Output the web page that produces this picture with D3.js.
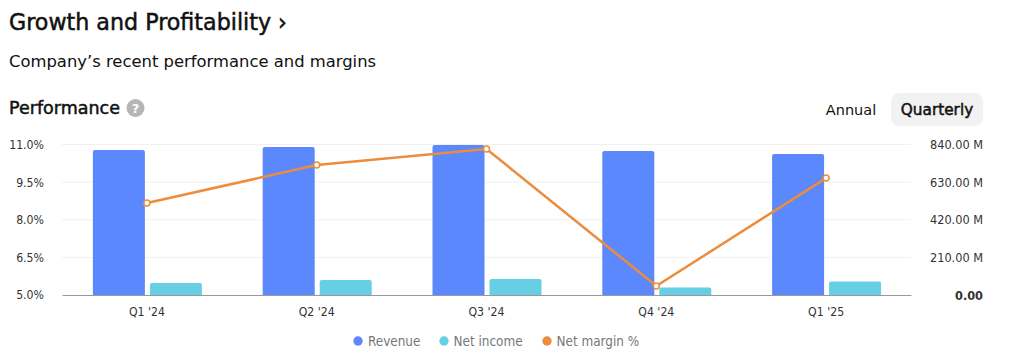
<!DOCTYPE html>
<html>
<head>
<meta charset="utf-8">
<script src="https://cdn.jsdelivr.net/npm/d3@7"></script>
<style>
  html, body { margin: 0; padding: 0; background: #fff; overflow: hidden; }
  text { font-family: "DejaVu Sans", sans-serif; }
  .small text, text.small { font-family: "DejaVu Sans Condensed", "DejaVu Sans", sans-serif; font-stretch: condensed; }
</style>
</head>
<body>
<svg id="chart" width="1024" height="361"></svg>
<script>
const quarters = ["Q1 '24", "Q2 '24", "Q3 '24", "Q4 '24", "Q1 '25"];
const revenue = [809, 826, 837, 804, 787];
const netIncome = [67, 84, 89, 42, 75];
const netMargin = [8.67, 10.18, 10.82, 5.36, 9.66];
const marginTicks = [5, 6.5, 8, 9.5, 11];
const moneyTicks = [0, 210, 420, 630, 840];
const legendItems = ["Revenue", "Net income", "Net margin %"];

const blue = "#5b88fd", teal = "#66cfe3", orange = "#ec8c3c";

const svg = d3.select("#chart");
const margin = {top: 144.5, bottom: 295, left: 62, right: 911};

const x = d3.scaleBand().domain(quarters).range([margin.left, margin.right]);
const yMoney = d3.scaleLinear().domain([0, 840]).range([margin.bottom, margin.top]);
const yMargin = d3.scaleLinear().domain([5, 11]).range([margin.bottom, margin.top]);

// headings, thin stroke stands in for the semi-bold weight
const heading = (xPos, yPos, label, size, anchor) => svg.append("text")
  .attr("x", xPos).attr("y", yPos).attr("text-anchor", anchor || "start").text(label)
  .style("font-size", size + "px").style("fill", "#111")
  .style("stroke", "#111").style("stroke-width", 0.5);

heading(9, 30, "Growth and Profitability ›", 22.2);
svg.append("text").attr("x", 9).attr("y", 67).text("Company’s recent performance and margins")
  .style("font-size", "16.4px").style("fill", "#111");
heading(9, 114, "Performance", 17.5);

// help icon
svg.append("circle").attr("cx", 135.5).attr("cy", 108).attr("r", 9).attr("fill", "#b5b5b5");
svg.append("text").attr("x", 135.5).attr("y", 113).attr("text-anchor", "middle").text("?")
  .style("font-size", "13px").style("font-weight", "bold").style("fill", "#fff");

// annual / quarterly toggle
svg.append("rect").attr("x", 891).attr("y", 93).attr("width", 92).attr("height", 33).attr("rx", 8).attr("fill", "#f2f2f2");
svg.append("text").attr("x", 851).attr("y", 115).attr("text-anchor", "middle").text("Annual")
  .style("font-size", "14.5px").style("fill", "#111");
heading(937, 115, "Quarterly", 15.3, "middle");

// grid
svg.append("g").selectAll("line")
  .data(marginTicks.slice(1))
  .enter().append("line")
  .attr("x1", margin.left).attr("x2", margin.right)
  .attr("y1", d => yMargin(d)).attr("y2", d => yMargin(d))
  .attr("stroke", "#f1f1f1");

// bars
const bandW = x.bandwidth();
const barW = 52;
const rounded = (x0, y0, w, h) => `M${x0},${y0 + h}V${y0 + 2}Q${x0},${y0} ${x0 + 2},${y0}H${x0 + w - 2}Q${x0 + w},${y0} ${x0 + w},${y0 + 2}V${y0 + h}Z`;

svg.append("g").selectAll("path")
  .data(quarters)
  .enter().append("path")
  .attr("d", (d, i) => rounded(x(d) + bandW / 2 - barW - 2, yMoney(revenue[i]), barW, yMoney(0) - yMoney(revenue[i])))
  .attr("fill", blue);

svg.append("g").selectAll("path")
  .data(quarters)
  .enter().append("path")
  .attr("d", (d, i) => rounded(x(d) + bandW / 2 + 3, yMoney(netIncome[i]), barW, yMoney(0) - yMoney(netIncome[i])))
  .attr("fill", teal);

// left axis
const leftAxis = svg.append("g")
  .attr("class", "small")
  .attr("transform", `translate(${margin.left},0)`)
  .call(d3.axisLeft(yMargin).tickValues(marginTicks).tickFormat(d => d.toFixed(1) + "%").tickSize(0).tickPadding(18));
leftAxis.select("path").remove();
leftAxis.selectAll("text").style("font-size", "12.2px").style("fill", "#333").attr("font-family", null);

// right axis
const rightAxis = svg.append("g")
  .attr("class", "small")
  .attr("transform", `translate(${margin.right},0)`)
  .call(d3.axisRight(yMoney).tickValues(moneyTicks).tickFormat(d => d === 0 ? "0.00" : d.toFixed(2) + " M").tickSize(0).tickPadding(72));
rightAxis.select("path").remove();
rightAxis.selectAll("text")
  .attr("text-anchor", "end")
  .style("font-size", "12.6px")
  .style("fill", "#333")
  .style("font-weight", d => d === 0 ? "bold" : "normal")
  .attr("font-family", null);

// bottom axis
const bottomAxis = svg.append("g")
  .attr("class", "small")
  .attr("transform", `translate(0,${margin.bottom})`)
  .call(d3.axisBottom(x).tickSize(0).tickPadding(12));
bottomAxis.select("path").attr("stroke", "#999").attr("stroke-width", 1.2);
bottomAxis.selectAll("text").style("font-size", "12.2px").style("fill", "#333").attr("font-family", null);

// net margin line
const line = d3.line()
  .x(d => x(d) + bandW / 2)
  .y((d, i) => yMargin(netMargin[i]));

svg.append("path")
  .datum(quarters)
  .attr("d", line)
  .attr("fill", "none")
  .attr("stroke", orange)
  .attr("stroke-width", 2.5);

svg.append("g").selectAll("circle")
  .data(quarters)
  .enter().append("circle")
  .attr("cx", d => x(d) + bandW / 2)
  .attr("cy", (d, i) => yMargin(netMargin[i]))
  .attr("r", 3)
  .attr("fill", "#fff")
  .attr("stroke", orange)
  .attr("stroke-width", 1.5);

// legend
const legendX = [358, 444, 547];
const legendColors = [blue, teal, orange];
const legend = svg.append("g").attr("class", "small").selectAll("g")
  .data(legendItems)
  .enter().append("g")
  .attr("transform", (d, i) => `translate(${legendX[i]},341)`);
legend.append("circle").attr("r", 4.7).attr("fill", (d, i) => legendColors[i]);
legend.append("text").attr("x", (d, i) => i === 0 ? 10 : 9.5).attr("y", 5).text(d => d)
  .style("font-size", "13.4px").style("fill", "#777");
</script>
</body>
</html>
